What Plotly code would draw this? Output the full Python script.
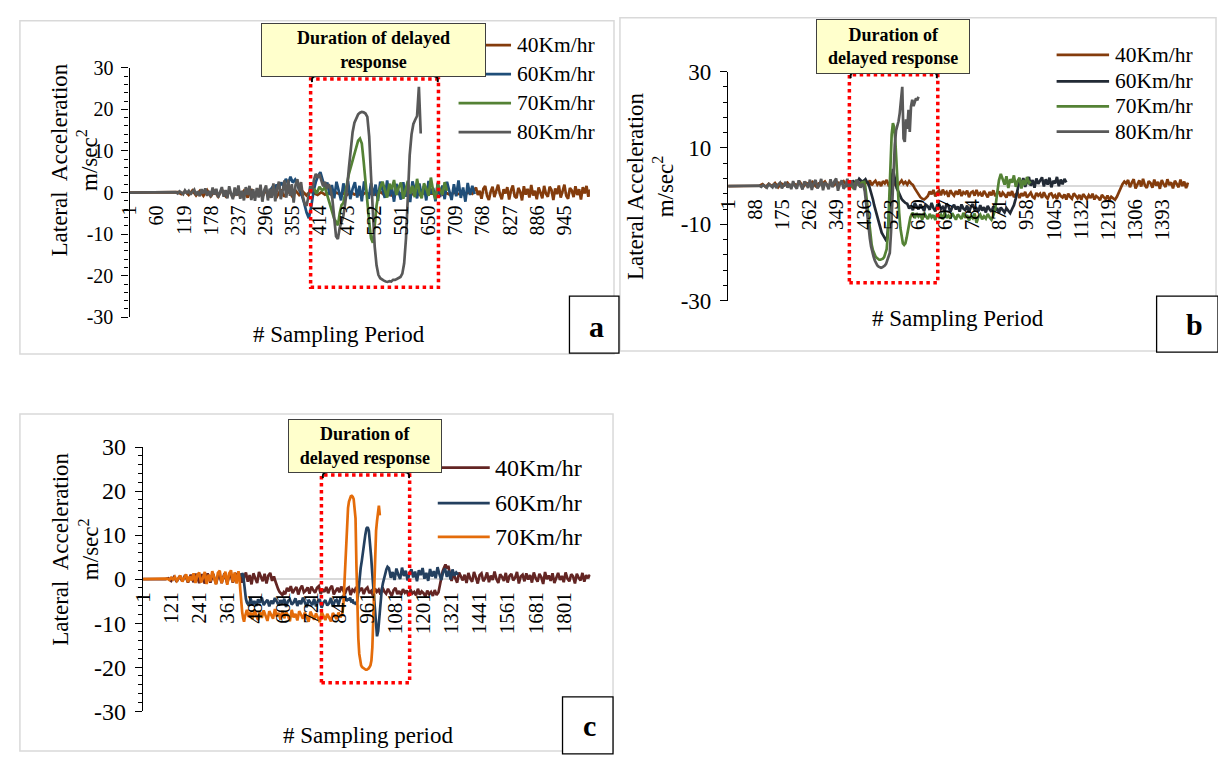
import plotly.graph_objects as go

W, H = 1218, 765
FONT = "Liberation Serif, Times New Roman, serif"

# ======================= DATA =======================
speeds_ab = ["40Km/hr", "60Km/hr", "70Km/hr", "80Km/hr"]
speeds_c = ["40Km/hr", "60Km/hr", "70Km/hr"]
panel_labels = ["a", "b", "c"]
callout_a = "Duration of delayed<br>response"
callout_bc = "Duration of<br>delayed response"
y_title = "Lateral  Acceleration<br>m/sec<sup>2</sup>"
y_title_b = "Lateral Acceleration<br>m/sec<sup>2</sup>"
x_title_ab = "# Sampling Period"
x_title_c = "# Sampling period"

ticks_a = [1, 60, 119, 178, 237, 296, 355, 414, 473, 532, 591, 650, 709, 768, 827, 886, 945]
ticks_b = [1, 88, 175, 262, 349, 436, 523, 610, 697, 784, 871, 958, 1045, 1132, 1219, 1306, 1393]
ticks_c = [1, 121, 241, 361, 481, 601, 721, 841, 961, 1081, 1201, 1321, 1441, 1561, 1681, 1801]
yticks_ac = [-30, -20, -10, 0, 10, 20, 30]
yticks_b = [-30, -10, 10, 30]
n_a, n_b, n_c = 1000, 1479, 1915

# each series: list of (first sample, sample step, values)
a40 = [
    (1, 8, [0, 0, 0, 0, 0, 0, 0, 0, 0, 0, 0, 0, 0]),
    (105, 8, [0.1, -0.4, 0.3, -0.6, 0.5, -0.7, 0.4, -0.8, 0.6, -0.9, 0.3, -1.0, 0.7, -0.8, 0.5, -1.1, 0.6, -0.9,
              0.4, -1.2, 0.8, -0.7, 0.5, -1.0, 0.6, -1.1, 0.3, -0.9, 0.7, -1.0, 0.4, -0.8, 0.5, -0.6, 0.2, -0.7, 0.3]),
    (401, 8, [-0.2, -0.6, 0.1, -0.5, -0.1, -0.7, 0.0, -0.4, -0.2, -0.6, 0.1, -0.5, -0.3, -0.7, 0.0, -0.4, -0.1, -0.6,
              0.2, -0.5, -0.2, -0.7, 0.1, -0.3, -0.2, -0.6, 0.0, -0.5, -0.1, -0.7, 0.1, -0.4, -0.2, -0.6, 0.2, -0.5,
              -0.1, -0.6, 0.0, -0.4, -0.2, -0.5, 0.1, -0.3]),
    (753, 4, [1.2, -0.6, 0.4, -1.5, 0.9, 1.6, -0.8, -1.8, 0.3, 1.4,
              -1.1, 0.6, 1.9, -0.4, -1.6, 0.8, -0.2, 1.3, -1.7, 0.5,
              1.7, -0.9, -1.3, 1.1, 0.2, -1.9, 1.5, -0.5, 0.9, -1.2,
              1.8, -0.7, 0.4, -1.6, 1.2, 0.0, -1.4, 1.6, -0.3, -1.0,
              1.4, 0.6, -1.8, 1.0, -0.4, 1.7, -1.2, 0.3, 1.9, -0.8,
              -1.5, 1.1, 0.5, -1.1, 1.5, -0.6, 0.8, -1.7, 1.3, -0.2,
              1.6, -1.0, 0.7]),
]
a60 = [
    (305, 5, [0.4, 1.2, 0.6, 1.9, 1.0, 2.4, 1.6, 3.3, 2.1, 3.8,
              2.4, 3.1, 1.8, 0.6, -0.8, -2.6, -4.8, -6.2, -3.5, 0.2,
              2.5, 4.0, 4.9, 3.0, 1.2, 2.4, -0.6, 1.8, -1.4, 2.6,
              0.3, -1.9, 2.2, -0.5, 2.8, -1.6, 0.9, 2.5, -1.2, 1.6,
              -2.1, 2.7, 0.1, -1.5, 2.3, -0.8, 1.9, -2.0, 2.6, 0.4,
              -1.3, 2.9, -0.9, 1.4, -2.2, 2.1, 0.0, -1.7, 2.5, -1.0,
              1.8, -2.3, 2.7, 0.5, -1.4, 2.2, -0.7, 1.5, -1.9, 2.8,
              -0.3, 1.1, -2.1, 2.4, -1.1, 1.7, -1.6, 2.6, 0.2, -1.8,
              2.0, -0.9, 2.9, -1.3, 1.2, -2.2, 2.3, -0.6, 1.6, -0.4]),
]
a70 = [
    (401, 6, [1.0, -0.2, 1.4, 0.5, 1.2, -1.0, -3.5]),
    (441, 4, [-5.0, -6.3, -7.0, -7.9, -5.0, -3.0, -2.5, -0.5, 2.2, 4.5, 6.0, 7.8, 9.0, 11.0, 12.5, 13.0, 11.8, 7.5,
              2.0, -2.5, -7.0, -11.0, -12.1, -8.0, -3.2, -0.5, 1.2]),
    (550, 5, [2.6, 0.4, -1.2, 2.1, 0.8, 3.0, -0.6, 1.2, 2.4, -1.5,
              0.7, 2.8, -0.3, 1.6, -1.1, 3.3, 0.2, -1.4, 2.2, 1.0,
              -0.8, 3.6, 0.3, -1.6, 2.0, 0.9, -0.5, 2.5, 0.4]),
]
a80 = [
    (1, 8, [0, 0, 0, 0, 0, 0, 0, 0, 0, 0, 0, 0, 0]),
    (101, 4, [0.1, -0.2, 0.3, 0.0, -0.4, 0.5, -0.1, 0.4, -0.5, 0.2,
              0.7, -0.6, 0.3, -0.9, 0.8, -0.2, 1.0, -0.8, 0.4, -1.1,
              1.2, -0.5, 0.9, -1.2, 0.2, 1.3, -1.0, 0.6, -1.4, 1.5,
              -0.3, -1.6, 1.2, -0.8, 1.7, -1.5, 0.4, -1.9, 1.3, -0.6,
              1.6, -1.8, 0.8, -2.0, 1.1, -1.2, 1.9, -2.2, 0.5, 1.7,
              -1.9, 0.9, -1.3, 2.2, -2.1, 1.0, 2.6, -1.6, 0.4, 2.9,
              -1.2, 3.1, -0.8, 2.0, -2.4, 1.8, 3.2, 0.3, 2.5, -0.9,
              -2.8, -3.2, -1.0, 1.5, 0.2, 3.0, 4.5, 3.6, 4.4, 2.8,
              1.5, 2.6, 0.9, 2.0]),
    (437, 4, [1.0, -1.5, -6.0, -10.5, -11.2, -8.5, -7.0, -5.6, -2.5, 1.0, 6.0, 10.7, 14.5, 16.8, 18.0, 18.8, 19.2,
              19.4, 19.3, 19.0, 18.2, 13.5, 4.0, -6.5, -13.0, -17.5, -19.8, -20.6, -21.0, -21.2, -21.4, -21.5, -21.3,
              -21.4, -21.0, -21.0, -20.8, -20.6, -20.3, -19.5, -17.0, -11.0, -1.0, 9.0, 14.0, 16.5, 17.5, 18.4, 25.4,
              14.2]),
]

b40 = [
    (1, 10, [0, 0, 0, 0, 0, 0, 0, 0, 0, 0,
             0.1, 0.5, -0.2, 0.6, 0.0, 0.8, -0.3, 0.7, 0.2, 0.9, -0.1, 0.6, 0.3, 1.0, -0.2, 0.8, 0.4, 1.1, 0.0, 0.7,
             0.5, 1.2, -0.1, 0.9, 0.3, 1.0, 0.6, 1.3, 0.1, 0.9, 0.4, 1.2, 0.7, 1.0]),
    (437, 6, [0.3, 1.2, 0.6, 1.5, 0.2, 0.9, 1.4, 0.4, 1.1, 0.0,
              1.3, 0.7, 1.6, 0.3, 1.0, 1.4, 0.5, 1.2, 0.2, 0.9,
              1.5, 0.6, 1.1, 0.4, 1.3, 0.7]),
    (593, 6, [0.3, -0.6, -1.4, -2.2, -2.9, -3.3, -3.5, -3.1]),
    (641, 6, [-2.6, -1.4, -2.1, -1.0, -2.7, -1.7, -1.2, -2.4, -0.9, -2.0,
              -1.5, -2.8, -1.1, -1.9, -2.5, -1.3, -2.2, -0.9, -2.6, -1.6,
              -2.0, -1.2, -2.9, -1.7, -1.4, -2.5, -1.0, -2.3, -1.8, -2.7,
              -1.3, -2.1, -2.9, -1.5, -2.4, -1.1, -2.6, -2.0, -1.4, -2.8,
              -1.7, -2.3, -3.0, -1.6, -2.5, -1.3, -2.9, -2.1, -1.8, -3.1,
              -1.9, -2.6, -1.5, -3.0, -2.2, -1.7, -2.8, -3.2, -1.8, -2.5,
              -2.0, -3.1, -1.6, -2.7, -3.3, -2.1, -1.9, -2.9, -2.4, -3.4,
              -1.8, -2.6, -3.0, -2.2, -3.5, -2.0, -2.8, -3.3, -1.9, -2.7,
              -3.2, -2.3, -3.6, -2.1, -2.9, -3.4, -2.4, -3.1, -2.0, -3.5,
              -2.6, -3.0, -3.7, -2.3, -2.9, -3.4, -2.5, -3.6, -2.8, -3.2,
              -3.6]),
    (1247, 6, [-2.8, -1.6, -0.4, 0.5, 1.2, 0.7]),
    (1283, 6, [1.6, -0.3, 0.9, 1.8, -0.6, 0.4, 1.5, -0.1, 1.9, 0.2,
               -0.5, 1.3, 0.8, -0.4, 1.7, 0.1, 1.1, -0.7, 1.6, 0.5,
               -0.2, 1.8, 0.3, 1.0, -0.6, 1.4, 0.6, -0.3, 1.7, 0.0,
               1.2, -0.5, 0.9]),
]
b60 = [
    (381, 10, [1.2, -0.5, 1.5, 0.2, 1.9, 1.1]),
    (437, 4, [1.5, 1.8, 1.2, 0.9, 0.0, -1.0, -1.9, -3.5, -5.0, -6.2, -7.8, -9.3, -10.5, -11.5, -12.2, -12.8, -13.4,
              -14.0, -14.5, -11.5, -6.5, -2.0, 1.5, 4.5, 2.5, 0.5, -0.5, -1.2, -2.0, -2.8, -3.4, -3.8, -4.2, -4.4]),
    (575, 6, [-4.6, -5.9, -5.1, -6.3, -4.5, -5.4, -6.1, -4.8, -5.7, -6.5,
              -4.9, -5.3, -6.2, -4.4, -5.8, -6.6, -5.0, -4.7, -6.0, -5.5,
              -6.4, -4.6, -5.2, -6.8, -5.6, -4.9, -6.1, -5.3, -6.7, -4.8,
              -5.9, -6.3, -5.1, -6.9, -5.4, -4.7, -6.2, -5.8, -6.6, -5.0,
              -6.4, -5.5, -6.9, -5.2, -6.1, -6.7, -5.3, -6.5, -5.7, -7.0,
              -5.6, -6.3, -6.9, -5.8, -6.5, -7.1, -6.0, -5.0, -3.2]),
    (929, 6, [-0.5, 1.5, 0.3, 2.1, -0.2, 1.2, 2.4, 0.1, 1.6, -0.4,
              2.0, 0.6, 1.3, 2.3, -0.1, 1.8, 0.4, 2.2, -0.3, 1.4,
              0.7, 2.4, 0.0, 1.7, 0.5, 1.9, 1.0]),
]
b70 = [
    (391, 10, [0.8, -0.4, 1.2, 0.2, 1.0]),
    (437, 4, [1.1, -0.5, -3.5, -6.8, -10.0, -12.8, -15.4, -16.8, -17.8, -18.4, -18.8, -19.2, -19.3, -19.3, -19.2,
              -19.0, -18.6, -17.8, -16.5, -12.5, -5.0, 5.0, 13.5, 16.5, 15.5, 11.5, 4.0, -2.0, -7.0, -11.0, -13.8,
              -15.0, -15.4, -15.0, -13.5, -11.5, -9.5, -8.2, -7.4, -7.0]),
    (599, 6, [-8.4, -7.1, -8.0, -7.4, -8.8, -7.0, -7.9, -8.6, -7.3, -8.2,
              -7.6, -8.9, -7.2, -8.1, -7.5, -8.7, -6.9, -8.3, -7.7, -8.5,
              -7.1, -8.0, -8.8, -7.4, -7.9, -8.6, -7.0, -8.3, -7.6, -9.0,
              -7.8, -8.4, -7.2, -9.6, -8.1, -7.5, -8.7, -7.9, -8.5, -7.3,
              -8.2, -8.8, -7.7]),
    (857, 6, [-6.0, -2.0, 1.5, 3.2, 2.0, 0.4, 2.6, -0.5, 1.8, 0.9, 2.8, -0.2, 1.4, 2.2, -0.6, 1.6, 0.3, 2.4, 0.8,
              1.2]),
]
b80 = [
    (1, 10, [0, 0, 0, 0, 0, 0, 0, 0, 0, 0]),
    (101, 6, [0.1, -0.2, 0.3, 0.0, -0.4, 0.5, 0.1, -0.3, 0.7, -0.5,
              0.4, 0.9, -0.6, 0.2, 1.1, -0.4, 0.6, -0.8, 1.3, 0.0,
              -0.7, 1.5, 0.3, -0.9, 1.2, 0.6, -0.5, 1.7, -1.0, 0.8,
              1.6, -0.6, 0.2, 1.9, -1.1, 1.0, 0.4, -0.8, 1.8, -0.3,
              1.2, 2.0, -1.2, 0.7, 1.5, -0.7, 0.1, 1.9, -0.9, 1.4,
              0.5, -1.0, 1.7, 0.9, -0.4, 0.6]),
    (435, 4, [0.0, -1.5, -4.5, -8.0, -11.5, -13.7, -15.8, -17.5, -18.5, -19.5, -20.3, -20.8, -21.1, -21.3, -21.4,
              -21.3, -21.1, -20.8, -20.4, -19.6, -18.6, -17.5, -12.0, -3.0, 4.0, 10.8, 14.5, 15.8, 17.0, 19.2, 22.0,
              26.0, 12.5, 11.6, 17.5, 15.0, 20.0, 14.2, 20.9, 22.6, 21.0, 21.8, 23.0, 22.5, 23.4]),
]

c40 = [
    (1, 12, [0, 0, 0, 0, 0, 0, 0, 0, 0,
             0.2, -0.4, 0.5, -0.6, 0.7, -0.5, 0.9, -0.8, 1.0, -0.7, 1.2, -0.9, 1.1, -1.0, 1.3, -0.8, 1.2, -1.1, 1.4,
             -0.9, 1.3, -1.0, 1.5, -0.8, 1.2, 0.9]),
    (417, 8, [1.0, -0.8, 0.4, 1.5, -0.6, 0.9, -1.2, 1.3, 0.2, -0.9,
              1.6, 0.5, -0.5, 1.2, -1.0, 0.8, 1.4, -0.4]),
    (561, 6, [0.6, -0.5, -1.5, -2.3, -2.9, -3.3, -3.6, -3.0]),
    (609, 8, [-3.4, -2.0, -2.8, -1.6, -3.2, -2.4, -1.8, -3.5, -2.2, -1.5,
              -3.0, -2.6, -1.9, -3.3, -1.7, -2.5, -3.1, -2.0, -1.6, -3.4,
              -2.3, -2.9, -1.8, -3.2, -2.1, -1.5, -3.5, -2.7, -2.0, -3.0,
              -1.7, -2.6, -3.3, -2.2, -1.9, -3.6, -2.4, -2.8, -1.8, -3.1,
              -2.5, -2.0, -3.4, -2.3, -1.9, -3.2, -2.7, -3.7, -2.1, -2.9,
              -2.4, -3.5, -1.9, -2.8, -3.3, -2.2, -3.0, -3.8, -2.5, -2.0,
              -3.4, -2.7, -3.6, -2.3, -3.1, -2.6, -3.9, -2.4, -3.3, -2.9,
              -3.7, -2.2, -3.5, -2.8, -3.2, -4.0, -2.6, -3.4, -2.9, -3.8,
              -2.5, -3.6, -3.0]),
    (1271, 6, [-1.5, 0.5, 1.8, 2.6, 3.3, 2.4, 3.0, 1.5]),
    (1321, 8, [-0.4, 1.2, 0.3, -0.8, 1.5, 0.6, -0.3, 1.0, -0.9, 1.4,
               0.1, -0.6, 1.6, 0.4, -1.0, 0.9, 1.3, -0.5, 0.2, 1.5,
               -0.7, 0.8, -0.2, 1.7, 0.0, -0.9, 1.1, 0.5, -0.4, 1.4,
               -0.8, 0.7, 1.2, -0.3, 0.3, 1.6, -1.0, 0.6, 1.0, -0.5,
               1.3, -0.1, 0.9, -0.8, 1.5, 0.2, -0.6, 1.2, 0.4, -1.1,
               1.6, 0.0, 0.8, -0.4, 1.3, -0.9, 0.5, 1.4, -0.2, 0.7,
               -0.7, 1.5, 0.1, -0.5, 1.1, 0.6, -1.0, 1.2, 0.3, -0.3,
               1.4, -0.6, 0.9, 0.2, 1.0]),
]
c60 = [
    (421, 4, [0.5, 1.3, 1.0, -1.0, -3.0, -4.5, -5.3, -5.8, -6.0]),
    (461, 8, [-4.4, -5.8, -5.0, -6.1, -4.6, -5.4, -4.2, -5.9, -5.2, -4.7,
              -6.2, -4.9, -5.6, -4.3, -5.1, -6.0, -4.8, -5.5, -4.5, -6.3,
              -5.0, -4.6, -5.8, -5.3, -4.4, -6.1, -4.9, -5.7, -4.2, -5.4,
              -6.4, -4.7, -5.2, -5.9, -4.5, -6.2, -5.0, -4.6, -6.5, -5.3,
              -4.8, -6.0, -5.5, -4.3, -6.3, -5.1, -4.7, -5.8, -4.4, -4.0]),
    (857, 5, [-3.9, -4.6, -4.0, -5.0, -4.4, -4.8, -4.2, -5.3, -4.6, -5.6, -5.2, -5.8, -5.0, -3.0, 0.5, 2.5, 4.2, 6.5,
              8.5, 10.1, 11.5, 11.8, 11.0, 8.5, 5.0, 1.0, -3.1, -7.0, -10.4, -13.0, -11.8, -8.5, -5.5, -2.5, -1.0,
              0.3, 1.2, 2.2, 2.8]),
    (1053, 8, [2.5, 0.3, 1.6, -0.2, 2.4, 1.0, 0.0, 2.6, 0.7, 1.9,
               -0.3, 1.3, 2.2, 0.4, 1.7, -0.5, 2.0, 0.9, 2.5, 0.1,
               1.4, -0.4, 2.3, 0.6, 1.8, 0.2, 2.7, 1.1, -0.2, 1.6,
               2.4, 0.5, 1.9, -0.1, 2.2, 0.8, 1.5, 1.0]),
]
c70 = [
    (1, 12, [0, 0, 0, 0, 0, 0, 0, 0, 0]),
    (105, 8, [0.1, -0.2, 0.3, -0.1, 0.5, -0.4, 0.2, 0.8, -0.6, 0.4,
              1.1, -0.7, 0.6, -0.3, 1.3, -0.9, 0.9, 1.5, -0.8, 0.3,
              1.6, -1.1, 1.0, -0.5, 1.8, 0.2, -1.2, 1.4, 1.9, -0.9,
              0.7, 1.7, -1.3, 1.2, 2.0, -0.7, 1.5, -1.0, 1.8]),
    (413, 4, [0.5, -2.5, -5.5, -7.5, -8.9, -9.7, -8.5]),
    (445, 8, [-7.0, -8.6, -7.6, -9.1, -6.9, -8.2, -9.3, -7.4, -8.8, -7.1,
              -8.4, -9.5, -7.3, -8.0, -9.0, -6.8, -8.5, -7.7, -9.2, -7.2,
              -8.9, -7.5, -8.3, -9.6, -7.0, -8.7, -7.9, -9.4, -7.3, -8.1,
              -9.0, -7.6, -8.6, -9.7, -7.4, -8.4, -9.2, -7.8, -8.9, -9.8,
              -7.5, -8.3, -9.3, -7.9, -8.8, -9.6, -7.7, -8.5, -9.1, -7.6,
              -8.7, -8.0]),
    (858, 4, [-6.0, -1.5, 2.8, 9.0, 13.8, 16.2, 17.6, 18.4, 18.8, 18.9, 18.7, 18.2, 16.5, 13.8, 2.8, -8.2, -13.5,
              -17.0, -19.0, -19.6, -20.0, -20.2, -20.3, -20.5, -20.6, -20.6, -20.5, -20.3, -20.0, -19.6, -18.5,
              -15.5, -9.0, -2.0, 6.4, 11.0, 13.2, 14.8, 16.7, 14.5]),
]

# ======================= STYLE / GEOMETRY =======================
def fx(px):
    return px / W


def fy(py):
    return 1 - py / H


def build(segs):
    xs, ys = [], []
    for k, (start, step, vals) in enumerate(segs):
        limit = segs[k + 1][0] if k + 1 < len(segs) else float("inf")
        for i, v in enumerate(vals):
            x = start + i * step
            if x >= limit:
                break
            xs.append(x)
            ys.append(v)
    return xs, ys


panels = [
    dict(key="", series=[a40, a60, a70, a80], names=speeds_ab,
         colors=["#843C0C", "#1F4E79", "#548235", "#595959"],
         ax_x=118.7, pps=0.465, n=n_a, ytop=56.7, ybot=315.0, ticks=ticks_a,
         yt=yticks_ac, yminor=2, yfont=20, xfont=20),
    dict(key="2", series=[b40, b60, b70, b80], names=speeds_ab,
         colors=["#843C0C", "#222A35", "#548235", "#595959"],
         ax_x=723.2, pps=0.315, n=n_b, ytop=60.7, ybot=297.7, ticks=ticks_b,
         yt=yticks_b, yminor=4, yfont=23, xfont=20.5),
    dict(key="3", series=[c40, c60, c70], names=speeds_c,
         colors=["#632523", "#24405F", "#E46C0A"],
         ax_x=132.3, pps=0.236, n=n_c, ytop=449.3, ybot=722.7, ticks=ticks_c,
         yt=yticks_ac, yminor=2, yfont=24, xfont=21),
]

fig = go.Figure()
layout = {}
for p in panels:
    k = p["key"]
    xdom = [fx(p["ax_x"]), fx(p["ax_x"] + p["n"] * p["pps"])]
    ydom = [fy(p["ybot"]), fy(p["ytop"])]
    for s, c in zip(p["series"], p["colors"]):
        xs, ys = build(s)
        fig.add_trace(go.Scatter(x=xs, y=ys, mode="lines", line=dict(color=c, width=2.7),
                                 xaxis="x" + k, yaxis="y" + k, hoverinfo="skip", showlegend=False))
    layout["xaxis" + k] = dict(
        domain=xdom, range=[0.5, p["n"] + 0.5], anchor="free", position=(ydom[0] + ydom[1]) / 2,
        showline=False, showgrid=False, zeroline=False, ticks="",
        tickmode="array", tickvals=p["ticks"], ticktext=[str(t) for t in p["ticks"]],
        tickangle=-90, tickfont=dict(family=FONT, size=p["xfont"], color="black"),
        ticklabelstandoff=8, fixedrange=True)
    layout["yaxis" + k] = dict(
        domain=ydom, range=[-30, 30], anchor="x" + k,
        showline=True, linecolor="black", linewidth=1.3, showgrid=False,
        zeroline=True, zerolinecolor="#D9D9D9", zerolinewidth=1.5,
        ticks="outside", ticklen=7, tickwidth=1.3, tickcolor="black",
        tickmode="array", tickvals=p["yt"], ticktext=[str(t) for t in p["yt"]],
        minor=dict(ticks="outside", ticklen=4, tickwidth=1, tickcolor="black", tick0=-30, dtick=p["yminor"]),
        tickfont=dict(family=FONT, size=p["yfont"], color="black"),
        ticklabelstandoff=4, fixedrange=True)

shapes = []
annotations = []


def rect(x0, y0, x1, y1, color, width, fill="rgba(0,0,0,0)", dash="solid", layer="above"):
    shapes.append(dict(type="rect", xref="paper", yref="paper", x0=fx(x0), x1=fx(x1), y0=fy(y1), y1=fy(y0),
                       line=dict(color=color, width=width, dash=dash), fillcolor=fill, layer=layer))


def line(x0, y0, x1, y1, color, width):
    shapes.append(dict(type="line", xref="paper", yref="paper", x0=fx(x0), x1=fx(x1), y0=fy(y0), y1=fy(y1),
                       line=dict(color=color, width=width), layer="above"))


def arc(x0, y0, cx, cy, x1, y1):
    path = "M %.5f,%.5f Q %.5f,%.5f %.5f,%.5f" % (fx(x0), fy(y0), fx(cx), fy(cy), fx(x1), fy(y1))
    shapes.append(dict(type="path", xref="paper", yref="paper", path=path,
                       line=dict(color="black", width=2), layer="above"))


def text(t, px, py, size, xanchor="center", angle=0, **kw):
    annotations.append(dict(text=t, x=fx(px), y=fy(py), xref="paper", yref="paper", showarrow=False,
                            xanchor=xanchor, yanchor="middle", textangle=angle,
                            font=dict(family=FONT, size=size, color="black"), **kw))


# panel frames
rect(8, 8, 608, 353, "#D9D9D9", 1.5, layer="below")
rect(614, 5, 1216, 350, "#D9D9D9", 1.5, layer="below")
rect(8, 415, 607, 764, "#D9D9D9", 1.5, layer="below")

# red dotted windows
rect(301.6, 68.3, 430.7, 284.0, "#FF0000", 3.5, dash="dot")
rect(845.7, 64.0, 935.0, 279.3, "#FF0000", 3.5, dash="dot")
rect(312.5, 478.3, 401.6, 693.3, "#FF0000", 3.5, dash="dot")

# small callout pointer marks at the window corners
for xl, xr, yb in [(302, 431, 66.5), (846, 935, 62.5), (313, 402, 476.5)]:
    arc(xl + 5, yb - 1, xl, yb - 1, xl + 1, yb + 5)
    arc(xr - 5, yb - 1, xr, yb - 1, xr - 1, yb + 5)

# legends (line samples + text)
leg = [
    (panels[0], 451, 504, 508, [33.3, 63.3, 93.3, 123.3], 21.5),
    (panels[1], 1055, 1108, 1112, [43.3, 70.7, 96.7, 122.7], 21.5),
    (panels[2], 430, 482.5, 486, [470.7, 507.4, 542.4], 24),
]
for p, lx0, lx1, tx, ys_, fs in leg:
    for name, c, yy in zip(p["names"], p["colors"], ys_):
        line(lx0, yy, lx1, yy, c, 2.7)
        text(name, tx, yy, fs, xanchor="left")

# panel letter boxes
rect(563, 293, 613, 352, "black", 1.3, fill="white")
rect(1156, 293, 1218, 351, "black", 1.3, fill="white")
rect(556, 708, 607, 767, "black", 1.3, fill="white")
text("<b>%s</b>" % panel_labels[0], 590, 325, 30)
text("<b>%s</b>" % panel_labels[1], 1194, 322, 30)
text("<b>%s</b>" % panel_labels[2], 583, 738, 30)

# axis titles
text(y_title, 63.3, 152, 23, angle=-90)
text(y_title_b, 645.5, 179, 23, angle=-90)
text(y_title, 64.2, 555, 23, angle=-90)
text(x_title_ab, 330.7, 333.3, 23)
text(x_title_ab, 955, 316.7, 23)
text(x_title_c, 360, 748.3, 23)

# callouts
for t, x0, y0, x1, y1 in [(callout_a, 253, 11.7, 478, 65.7),
                          (callout_bc, 812.4, 7.3, 966.7, 62.3),
                          (callout_bc, 279.4, 420.7, 433, 475)]:
    annotations.append(dict(text="<b>%s</b>" % t, x=fx((x0 + x1) / 2), y=fy((y0 + y1) / 2),
                            xref="paper", yref="paper", showarrow=False, xanchor="center", yanchor="middle",
                            width=x1 - x0 - 2, height=y1 - y0 - 2, bgcolor="#FFFFCC", bordercolor="#404040",
                            borderwidth=1, borderpad=0, align="center", valign="middle",
                            font=dict(family=FONT, size=18, color="black")))

fig.update_layout(width=W, height=H, margin=dict(l=0, r=0, t=0, b=0), paper_bgcolor="white",
                  plot_bgcolor="rgba(0,0,0,0)", showlegend=False, hovermode=False,
                  shapes=shapes, annotations=annotations, **layout)

fig.write_html("out.html", post_script="document.body.style.margin='0';document.body.style.padding='0';")
